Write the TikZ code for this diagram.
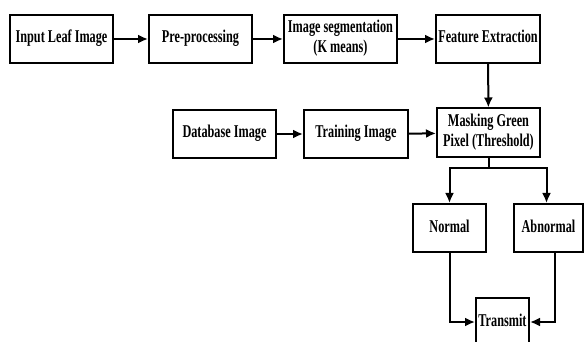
\documentclass[tikz,border=0pt]{standalone}
\usepackage{fontspec}
\usepackage{graphicx}
\setmainfont{Liberation Serif}
\usetikzlibrary{arrows.meta,calc}
\newcommand{\sqz}[1]{\scalebox{0.68}[1]{\begin{tabular}{@{}c@{}}#1\end{tabular}}}
\begin{document}
\begin{tikzpicture}[x=1pt,y=-1pt,
  box/.style={draw,line width=2pt,rectangle,inner sep=0pt,align=center,
    font=\fontsize{18}{20}\selectfont\bfseries},
  arr/.style={line width=2pt,-{Latex[length=10pt,width=9pt]}},
  ln/.style={line width=2pt}]
\useasboundingbox (0,0) rectangle (584,342);
\node[box,minimum width=103,minimum height=48] (inp) at (61.5,39) {\sqz{Input Leaf Image}};
\node[box,minimum width=103,minimum height=48] (pre) at (200.5,39) {\sqz{Pre-processing}};
\node[box,minimum width=113,minimum height=48] (seg) at (340.5,39) {\sqz{Image segmentation\\(K means)}};
\node[box,minimum width=104,minimum height=48] (fe) at (488,39) {\sqz{Feature Extraction}};
\node[box,minimum width=103,minimum height=48] (db) at (224.5,134) {\sqz{Database Image}};
\node[box,minimum width=104,minimum height=48] (tr) at (356,134) {\sqz{Training Image}};
\node[box,minimum width=103,minimum height=49] (mask) at (488.5,133) {\sqz{Masking Green\\Pixel (Threshold)}};
\node[box,minimum width=73,minimum height=48] (nor) at (449.5,228) {\sqz{Normal}};
\node[box,minimum width=69,minimum height=48] (abn) at (548.5,228) {\sqz{Abnormal}};
\node[box,minimum width=53,minimum height=48] (tx) at (502.5,322) {\sqz{Transmit}};
\coordinate (split) at (488.5,168);
\draw[arr] (inp) -- (pre);
\draw[arr] (pre) -- (seg);
\draw[arr] (seg) -- (fe);
\draw[arr] (fe) -- (mask);
\draw[arr] (db) -- (tr);
\draw[arr] (tr) -- (mask);
\draw[ln] (mask.south) -- (split);
\draw[arr] (split) -| (nor.north);
\draw[arr] (split) -| ([xshift=-2pt]abn.north);
\draw[arr] (nor.south) |- (tx.west);
\draw[arr] ([xshift=6pt]abn.south) |- (tx.east);
\end{tikzpicture}
\end{document}
